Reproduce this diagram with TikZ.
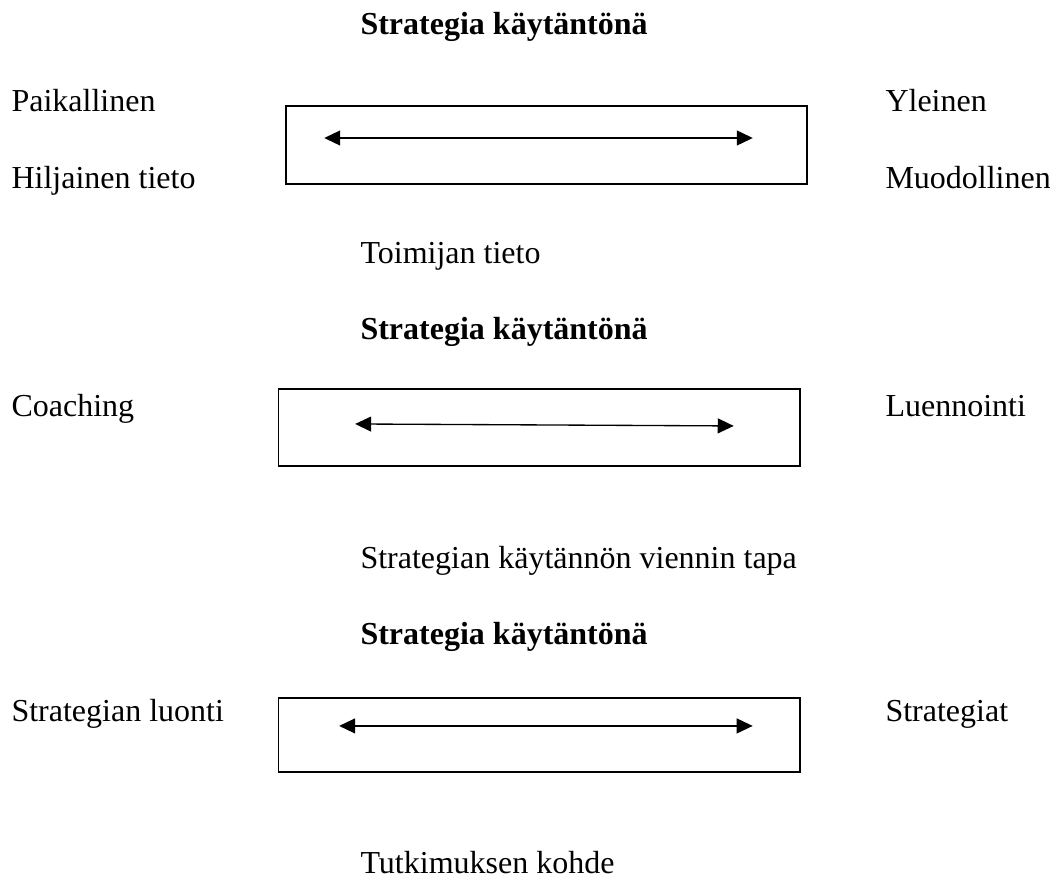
\documentclass[tikz,border=0pt]{standalone}
\usepackage{fontspec}
\setmainfont{Liberation Serif}
\usetikzlibrary{arrows.meta,positioning}
\tikzset{
  scalebox/.style={rectangle, draw=black, line width=0.5pt,
                   minimum width=6.87cm, minimum height=#1, inner sep=0pt},
  sidelabel/.style={anchor=base west, inner sep=0pt, font=\fontsize{12}{14}\selectfont},
  headlabel/.style={anchor=base west, inner sep=0pt, font=\fontsize{12}{14}\selectfont\bfseries},
  arr/.style={{Triangle[length=6pt,width=5.6pt]}-{Triangle[length=6pt,width=5.6pt]},
              line width=0.5pt, draw=black},
}
\begin{document}
\begin{tikzpicture}
  \useasboundingbox (0,0) rectangle (13.839,-11.598);

  % first panel: toimijan tieto
  \node[headlabel] (head1) at (4.745,-0.461) {Strategia käytäntönä};
  \node[scalebox=1.028cm] (box1) at (7.203,-1.911) {};
  \node[sidelabel] (paik) at (0.145,-1.476) {Paikallinen};
  \node[sidelabel] (hilj) at (0.145,-2.491) {Hiljainen tieto};
  \node[sidelabel] (ylei) at (11.664,-1.476) {Yleinen};
  \node[sidelabel] (muod) at (11.664,-2.491) {Muodollinen};
  \node[sidelabel] (toim) at (4.745,-3.479) {Toimijan tieto};
  \coordinate (a1l) at ([shift={(0.514,0.092)}]box1.west);
  \coordinate (a1r) at ([shift={(-0.725,0.092)}]box1.east);
  \draw[arr] (a1l) -- (a1r);

  % second panel: viennin tapa
  \node[headlabel] (head2) at (4.745,-4.481) {Strategia käytäntönä};
  \node[scalebox=1.015cm] (box2) at (7.110,-5.634) {};
  \node[sidelabel] (coach) at (0.145,-5.496) {Coaching};
  \node[sidelabel] (luen) at (11.664,-5.496) {Luennointi};
  \node[sidelabel] (tapa) at (4.745,-7.499) {Strategian käytännön viennin tapa};
  \coordinate (a2l) at ([shift={(1.015,0.046)}]box2.west);
  \coordinate (a2r) at ([shift={(-0.883,0.020)}]box2.east);
  \draw[arr] (a2l) -- (a2r);

  % third panel: tutkimuksen kohde
  \node[headlabel] (head3) at (4.745,-8.488) {Strategia käytäntönä};
  \node[scalebox=0.975cm] (box3) at (7.110,-9.687) {};
  \node[sidelabel] (luon) at (0.145,-9.516) {Strategian luonti};
  \node[sidelabel] (strat) at (11.664,-9.516) {Strategiat};
  \node[sidelabel] (kohde) at (4.745,-11.519) {Tutkimuksen kohde};
  \coordinate (a3l) at ([shift={(0.804,0.119)}]box3.west);
  \coordinate (a3r) at ([shift={(-0.633,0.119)}]box3.east);
  \draw[arr] (a3l) -- (a3r);
\end{tikzpicture}
\end{document}
